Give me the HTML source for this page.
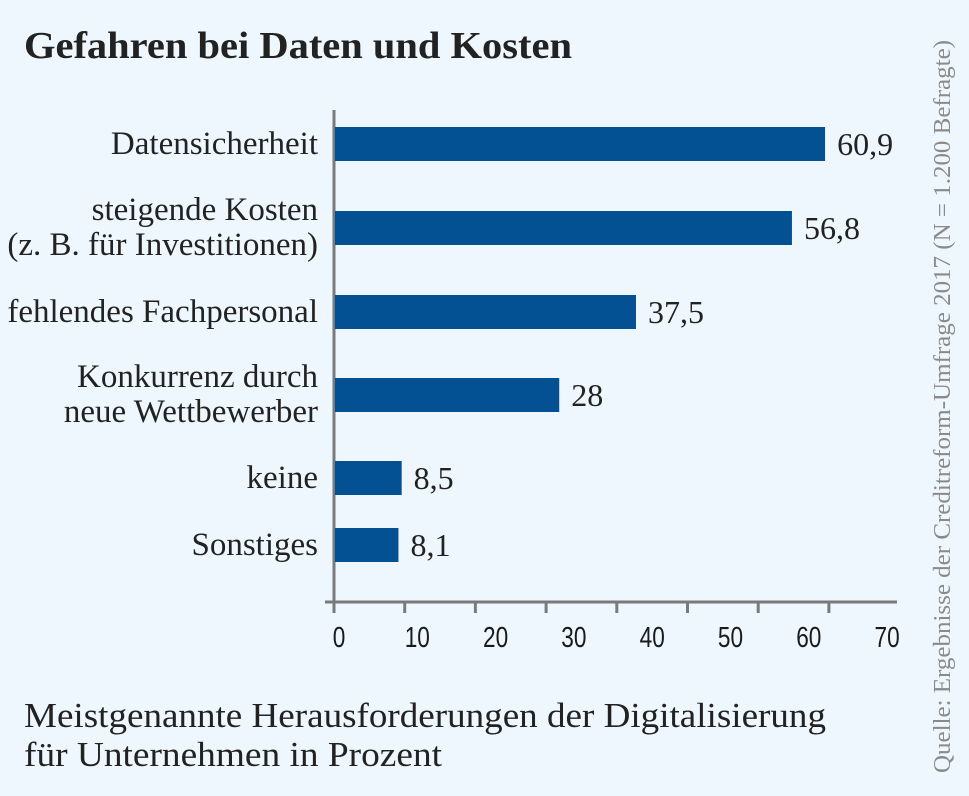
<!DOCTYPE html>
<html><head><meta charset="utf-8"><style>
body{margin:0;background:#eef7fd;}
svg{display:block}
.serif{font-family:"Liberation Serif",serif;}
.sans{font-family:"Liberation Sans",sans-serif;}
</style></head><body>
<svg id="chart" width="969" height="796" viewBox="0 0 969 796">
<rect width="969" height="796" fill="#eef7fd"/>
<text x="24" y="58" class="serif" font-size="38" font-weight="bold" fill="#222" textLength="548" lengthAdjust="spacingAndGlyphs">Gefahren bei Daten und Kosten</text>
<text transform="translate(950,773) rotate(-90)" class="serif" font-size="24" fill="#8a8a8a" textLength="733" lengthAdjust="spacingAndGlyphs">Quelle: Ergebnisse der Creditreform-Umfrage 2017 (N = 1.200 Befragte)</text>
<text x="24" y="727" class="serif" font-size="35" fill="#222" textLength="802" lengthAdjust="spacingAndGlyphs">Meistgenannte Herausforderungen der Digitalisierung</text>
<text x="24" y="766" class="serif" font-size="35" fill="#222" textLength="418" lengthAdjust="spacingAndGlyphs">für Unternehmen in Prozent</text>
<g id="plot"></g>
</svg>
<script>
const categories = [["Datensicherheit"],["steigende Kosten","(z. B. für Investitionen)"],["fehlendes Fachpersonal"],["Konkurrenz durch","neue Wettbewerber"],["keine"],["Sonstiges"]];
const values = [60.9, 56.8, 37.5, 28, 8.5, 8.1];
const valueLabels = ["60,9","56,8","37,5","28","8,5","8,1"];
const tickValues = [0,10,20,30,40,50,60,70];
const tickLabels = ["0","10","20","30","40","50","60","70"];

const NS = "http://www.w3.org/2000/svg";
const g = document.getElementById('plot');
const xBar = v => 333 + v * 8.08;
const xTick = v => 334 + v * 7.07;
const xTickLabel = v => 339 + v * 7.83;
const rowCenters = [144, 228, 312, 395, 478, 545];
const yRow = i => rowCenters[i];
const barH = 34;
function mk(tag, attrs){const e=document.createElementNS(NS,tag);for(const k in attrs)e.setAttribute(k,attrs[k]);g.appendChild(e);return e;}

const yAx = mk('line',{x1:334,y1:110,x2:334,y2:612,stroke:'#7a7a7a','stroke-width':3});


const xAx = mk('line',{x1:325,y1:602,x2:897,y2:602,stroke:'#7a7a7a','stroke-width':3});



tickValues.forEach((v,i)=>{
  const t = mk('line',{x1:xTick(v),y1:602,x2:xTick(v),y2:613,stroke:'#7a7a7a','stroke-width':3});
  
  
  const l = mk('text',{y:647,'text-anchor':'middle','font-size':29,fill:'#1a1a1a',class:'sans'});
  l.setAttribute('transform',`scale(0.78,1)`);
  l.setAttribute('x', xTickLabel(v)/0.78);
  l.textContent = tickLabels[i];
  
  
});

values.forEach((v,i)=>{
  const cy = yRow(i);
  const b = mk('rect',{x:xBar(0)+2,y:cy-barH/2,width:xBar(v)-xBar(0)-2,height:barH,fill:'#035193'});
  
  
  const vl = mk('text',{x:xBar(v)+12,y:cy+11,'font-size':32,fill:'#222',class:'serif'});
  vl.textContent = valueLabels[i];
  
  
  const lines = categories[i];
  lines.forEach((ln,j)=>{
    const off = lines.length===1 ? 10 : (j===0 ? -8 : 27);
    const c = mk('text',{x:318,y:cy+off,'text-anchor':'end','font-size':33,fill:'#222',class:'serif'});
    c.textContent = ln;
    
    
  });
});
</script>
</body></html>
